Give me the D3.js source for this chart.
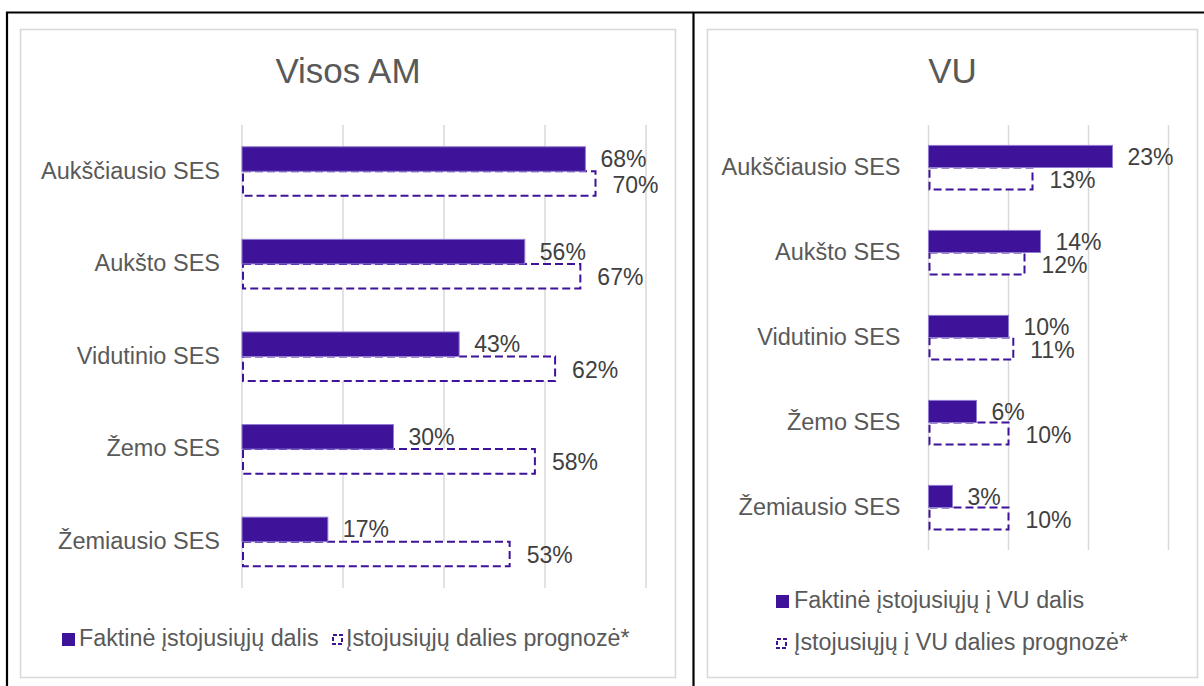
<!DOCTYPE html>
<html>
<head>
<meta charset="utf-8">
<script src="https://cdn.jsdelivr.net/npm/d3@7"></script>
<style>
  body { margin: 0; background: #fff; }
  text { font-family: "Liberation Sans", Arial, sans-serif; }
</style>
</head>
<body>
<svg width="1204" height="686"></svg>
<script>
// duomenys
var categories = ["Aukščiausio SES", "Aukšto SES", "Vidutinio SES", "Žemo SES", "Žemiausio SES"];
var amActual = [68, 56, 43, 30, 17];
var amForecast = [70, 67, 62, 58, 53];
var vuActual = [23, 14, 10, 6, 3];
var vuForecast = [13, 12, 10.6, 10, 10];
var amTicks = [0, 20, 40, 60, 80];
var vuTicks = [0, 10, 20, 30];
var amLegend = ["Faktinė įstojusiųjų dalis", "Įstojusiųjų dalies prognozė*"];
var vuLegend = ["Faktinė įstojusiųjų į VU dalis", "Įstojusiųjų į VU dalies prognozė*"];

var purple = "#3f1399",
    purpleEdge = "#8f7bd0",
    gridColor = "#d9d9d9",
    textColor = "#595959",
    labelColor = "#404040";

var svg = d3.select("svg");

// lentelės rėmeliai (juodi)
svg.append("line").attr("x1", 6).attr("x2", 1204).attr("y1", 12.5).attr("y2", 12.5)
  .attr("stroke", "#000").attr("stroke-width", 2.2);
svg.append("line").attr("x1", 7).attr("x2", 7).attr("y1", 12).attr("y2", 686)
  .attr("stroke", "#000").attr("stroke-width", 2.2);
svg.append("line").attr("x1", 693.5).attr("x2", 693.5).attr("y1", 12).attr("y2", 686)
  .attr("stroke", "#000").attr("stroke-width", 2.2);

function drawPanel(cfg) {
  // diagramos rėmelis
  svg.append("rect")
    .attr("x", cfg.frame[0]).attr("y", cfg.frame[1])
    .attr("width", cfg.frame[2]).attr("height", cfg.frame[3])
    .attr("fill", "#fff").attr("stroke", gridColor).attr("stroke-width", 1.6);

  svg.append("text")
    .attr("x", cfg.frame[0] + cfg.frame[2] / 2).attr("y", 83)
    .attr("text-anchor", "middle").attr("font-size", 35).attr("fill", textColor)
    .text(cfg.title);

  var x = d3.scaleLinear().domain([0, cfg.max]).range([cfg.left, cfg.right]);
  var y = d3.scaleBand().domain(categories).range([cfg.top, cfg.bottom])
    .paddingInner(cfg.pad).paddingOuter(cfg.pad / 2);
  var sub = d3.scaleBand().domain(["a", "f"]).range([0, y.bandwidth()]);

  // tinklelis
  svg.append("g").selectAll("line").data(cfg.ticks).enter().append("line")
    .attr("x1", function (d) { return x(d); }).attr("x2", function (d) { return x(d); })
    .attr("y1", cfg.top).attr("y2", cfg.bottom)
    .attr("stroke", gridColor).attr("stroke-width", 1.5);

  // kategorijų pavadinimai
  svg.append("g").selectAll("text").data(categories).enter().append("text")
    .attr("x", cfg.left - cfg.labelGap)
    .attr("y", function (d) { return y(d) + y.bandwidth() / 2 - 1; })
    .attr("dy", "0.35em").attr("text-anchor", "end")
    .attr("font-size", 23.5).attr("fill", textColor)
    .text(function (d) { return d; });

  // prognozė (punktyras)
  svg.append("g").selectAll("rect").data(cfg.forecast).enter().append("rect")
    .attr("x", x(0) + 1)
    .attr("y", function (d, i) { return y(categories[i]) + sub("f"); })
    .attr("width", function (d) { return x(d) - x(0) - 1; })
    .attr("height", sub.bandwidth())
    .attr("fill", "#fff").attr("stroke", purple).attr("stroke-width", 2)
    .attr("stroke-dasharray", "8,4");

  // faktinė dalis
  svg.append("g").selectAll("rect").data(cfg.actual).enter().append("rect")
    .attr("x", x(0))
    .attr("y", function (d, i) { return y(categories[i]) + sub("a"); })
    .attr("width", function (d) { return x(d) - x(0); })
    .attr("height", sub.bandwidth())
    .attr("fill", purple).attr("stroke", purpleEdge).attr("stroke-width", 1);

  // reikšmės
  var fmt = function (d) { return Math.round(d) + "%"; };
  svg.append("g").selectAll("text").data(cfg.actual).enter().append("text")
    .attr("x", function (d) { return x(d) + 15; })
    .attr("y", function (d, i) { return y(categories[i]) + sub("a") + sub.bandwidth() / 2; })
    .attr("dy", "0.35em").attr("font-size", 23).attr("fill", labelColor)
    .text(fmt);
  svg.append("g").selectAll("text").data(cfg.forecast).enter().append("text")
    .attr("x", function (d) { return x(d) + 17; })
    .attr("y", function (d, i) { return y(categories[i]) + sub("f") + sub.bandwidth() / 2 + 1; })
    .attr("dy", "0.35em").attr("font-size", 23).attr("fill", labelColor)
    .text(fmt);

  // legenda
  var lg = svg.append("g");
  cfg.legendPos.forEach(function (p, i) {
    if (i === 0) {
      lg.append("rect").attr("x", p[0]).attr("y", p[1] - 13).attr("width", 13).attr("height", 13)
        .attr("fill", purple);
    } else {
      lg.append("rect").attr("x", p[0] + 1).attr("y", p[1] - 11).attr("width", 9).attr("height", 9)
        .attr("fill", "#fff").attr("stroke", purple).attr("stroke-width", 2)
        .attr("stroke-dasharray", "4,2");
    }
    lg.append("text").attr("x", p[2]).attr("y", p[1])
      .attr("font-size", 23.3).attr("fill", textColor)
      .text(cfg.legend[i]);
  });
}

drawPanel({
  title: "Visos AM",
  frame: [20.5, 29.5, 655, 648],
  left: 242, right: 646, top: 125, bottom: 588, pad: 0.47,
  max: 80, ticks: amTicks, labelGap: 22,
  actual: amActual, forecast: amForecast,
  legend: amLegend,
  legendPos: [[62, 646, 79], [332, 646, 346]]
});

drawPanel({
  title: "VU",
  frame: [707.5, 29.5, 490, 648],
  left: 928.5, right: 1168.5, top: 125, bottom: 550, pad: 0.48,
  max: 30, ticks: vuTicks, labelGap: 28,
  actual: vuActual, forecast: vuForecast,
  legend: vuLegend,
  legendPos: [[776, 608, 794], [776, 650, 794]]
});
</script>
</body>
</html>
